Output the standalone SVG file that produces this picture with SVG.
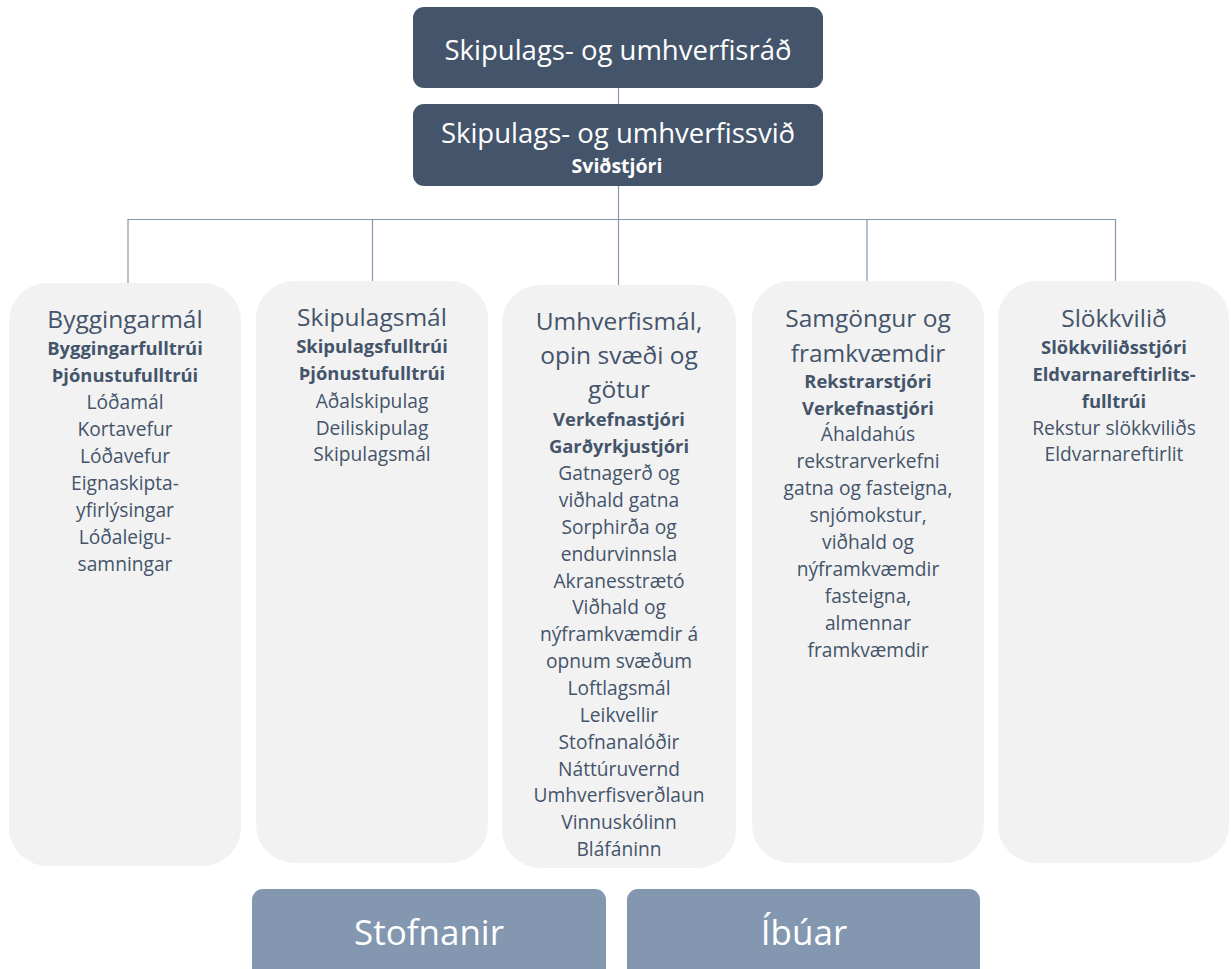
<svg xmlns="http://www.w3.org/2000/svg" width="1231" height="969" viewBox="0 0 1231 969">
<style>
.dark{fill:#44546A}
.mid{fill:#8497B0}
.col{fill:#F2F2F2}
.t{font-family:"Open Sans","Noto Sans","DejaVu Sans",sans-serif;text-anchor:middle}
.w{fill:#FFFFFF}
.c{fill:#44546A}
.h{font-size:24.5px}
.b{font-size:18.4px;font-weight:bold}
.r{font-size:19.2px}
.conn{stroke:#8497B0;stroke-width:1.2;fill:none}
</style>
<rect width="1231" height="969" fill="#FFFFFF"/>
<g id="connectors">
<line class="conn" x1="618.5" y1="88" x2="618.5" y2="105"/>
<line class="conn" x1="618.5" y1="186" x2="618.5" y2="285"/>
<polyline class="conn" points="128,283 128,219.5 1115.5,219.5 1115.5,281"/>
<line class="conn" x1="372.5" y1="219.5" x2="372.5" y2="281"/>
<line class="conn" x1="867" y1="219.5" x2="867" y2="281"/>
</g>
<g id="node-rad">
<rect class="dark" x="413" y="7" width="410" height="81" rx="11"/>
<text class="t w" x="618" y="60" font-size="27.5">Skipulags- og umhverfisráð</text>
</g>
<g id="node-svid">
<rect class="dark" x="413" y="104" width="410" height="82" rx="11"/>
<text class="t w" x="618" y="143" font-size="27.5">Skipulags- og umhverfissvið</text>
<text class="t w" x="617" y="173" font-size="19.5" font-weight="bold">Sviðstjóri</text>
</g>
<g id="node-bygging">
<rect class="col" x="9" y="283" width="232" height="583" rx="38"/>
<text class="t c h" x="125" y="328">Byggingarmál</text>
<text class="t c b" x="125" y="355">Byggingarfulltrúi</text>
<text class="t c b" x="125" y="382">Þjónustufulltrúi</text>
<text class="t c r" x="125" y="409">Lóðamál</text>
<text class="t c r" x="125" y="436">Kortavefur</text>
<text class="t c r" x="125" y="463">Lóðavefur</text>
<text class="t c r" x="125" y="490">Eignaskipta-</text>
<text class="t c r" x="125" y="517">yfirlýsingar</text>
<text class="t c r" x="125" y="544">Lóðaleigu-</text>
<text class="t c r" x="125" y="571">samningar</text>
</g>
<g id="node-skipulag">
<rect class="col" x="256" y="281" width="232" height="582" rx="38"/>
<text class="t c h" x="372" y="326">Skipulagsmál</text>
<text class="t c b" x="372" y="353">Skipulagsfulltrúi</text>
<text class="t c b" x="372" y="380">Þjónustufulltrúi</text>
<text class="t c r" x="372" y="408">Aðalskipulag</text>
<text class="t c r" x="372" y="435">Deiliskipulag</text>
<text class="t c r" x="372" y="461">Skipulagsmál</text>
</g>
<g id="node-umhverfi">
<rect class="col" x="502" y="285" width="234" height="583" rx="38"/>
<text class="t c h" x="619" y="330">Umhverfismál,</text>
<text class="t c h" x="619" y="364">opin svæði og</text>
<text class="t c h" x="619" y="398">götur</text>
<text class="t c b" x="619" y="426">Verkefnastjóri</text>
<text class="t c b" x="619" y="453">Garðyrkjustjóri</text>
<text class="t c r" x="619" y="480">Gatnagerð og</text>
<text class="t c r" x="619" y="507">viðhald gatna</text>
<text class="t c r" x="619" y="534">Sorphirða og</text>
<text class="t c r" x="619" y="561">endurvinnsla</text>
<text class="t c r" x="619" y="588">Akranesstrætó</text>
<text class="t c r" x="619" y="614">Viðhald og</text>
<text class="t c r" x="619" y="641">nýframkvæmdir á</text>
<text class="t c r" x="619" y="668">opnum svæðum</text>
<text class="t c r" x="619" y="695">Loftlagsmál</text>
<text class="t c r" x="619" y="722">Leikvellir</text>
<text class="t c r" x="619" y="749">Stofnanalóðir</text>
<text class="t c r" x="619" y="776">Náttúruvernd</text>
<text class="t c r" x="619" y="802">Umhverfisverðlaun</text>
<text class="t c r" x="619" y="829">Vinnuskólinn</text>
<text class="t c r" x="619" y="856">Bláfáninn</text>
</g>
<g id="node-samgongur">
<rect class="col" x="752" y="281" width="232" height="582" rx="38"/>
<text class="t c h" x="868" y="327">Samgöngur og</text>
<text class="t c h" x="868" y="362">framkvæmdir</text>
<text class="t c b" x="868" y="388">Rekstrarstjóri</text>
<text class="t c b" x="868" y="415">Verkefnastjóri</text>
<text class="t c r" x="868" y="441">Áhaldahús</text>
<text class="t c r" x="868" y="468">rekstrarverkefni</text>
<text class="t c r" x="868" y="495">gatna og fasteigna,</text>
<text class="t c r" x="868" y="522">snjómokstur,</text>
<text class="t c r" x="868" y="549">viðhald og</text>
<text class="t c r" x="868" y="576">nýframkvæmdir</text>
<text class="t c r" x="868" y="603">fasteigna,</text>
<text class="t c r" x="868" y="630">almennar</text>
<text class="t c r" x="868" y="657">framkvæmdir</text>
</g>
<g id="node-slokkvilid">
<rect class="col" x="998" y="281" width="231" height="582" rx="38"/>
<text class="t c h" x="1114" y="327">Slökkvilið</text>
<text class="t c b" x="1114" y="354">Slökkviliðsstjóri</text>
<text class="t c b" x="1114" y="381">Eldvarnareftirlits-</text>
<text class="t c b" x="1114" y="408">fulltrúi</text>
<text class="t c r" x="1114" y="435">Rekstur slökkviliðs</text>
<text class="t c r" x="1114" y="461">Eldvarnareftirlit</text>
</g>
<g id="node-stofnanir">
<rect class="mid" x="252" y="889" width="354" height="95" rx="11"/>
<text class="t w" x="429" y="945" font-size="35">Stofnanir</text>
</g>
<g id="node-ibuar">
<rect class="mid" x="627" y="889" width="353" height="95" rx="11"/>
<text class="t w" x="804" y="945" font-size="35">Íbúar</text>
</g>
</svg>
